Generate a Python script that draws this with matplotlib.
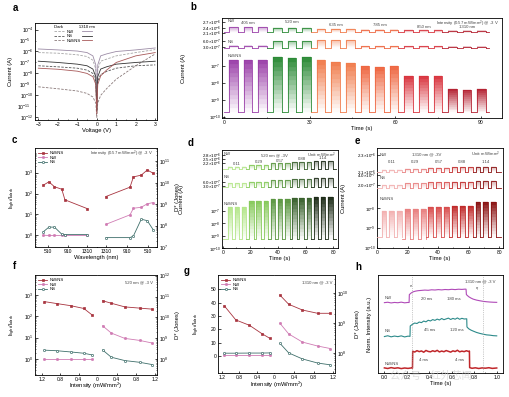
import numpy as np
import matplotlib
matplotlib.use("Agg")
import matplotlib.pyplot as plt
from matplotlib.colors import to_rgb
from matplotlib.ticker import NullLocator, FixedLocator

plt.rcParams['font.family'] = ['Liberation Sans', 'Noto Sans CJK SC', 'DejaVu Sans']
plt.rcParams['mathtext.fontset'] = 'custom'
plt.rcParams['mathtext.rm'] = 'Liberation Sans'
plt.rcParams['mathtext.it'] = 'Liberation Sans:italic'
plt.rcParams['font.size'] = 3.6
plt.rcParams['axes.linewidth'] = 0.6
plt.rcParams['axes.labelsize'] = 4.2
plt.rcParams['axes.labelpad'] = 1.0
for k in ['xtick', 'ytick']:
    plt.rcParams[k + '.direction'] = 'in'
    plt.rcParams[k + '.major.size'] = 1.8
    plt.rcParams[k + '.minor.size'] = 1.0
    plt.rcParams[k + '.major.width'] = 0.5
    plt.rcParams[k + '.minor.width'] = 0.4
    plt.rcParams[k + '.major.pad'] = 1.1
    plt.rcParams[k + '.labelsize'] = 3.6

# ---------------- data ----------------
# a: I-V curves
a_volt = [-3, -2, -1, -0.5, -0.2, -0.05, 0, 0.05, 0.2, 0.5, 1, 2, 3]
a_dark_nw = [8e-7, 7e-7, 5e-7, 3.5e-7, 1.6e-7, 2.5e-8, 6e-12, 2.5e-8, 1.3e-7, 2e-7, 4e-7, 8e-7, 1.5e-6]
a_dark_ns = [5e-8, 4e-8, 3e-8, 2e-8, 1e-8, 2e-9, 3e-12, 2e-9, 8e-9, 1.5e-8, 3e-8, 5e-8, 6e-8]
a_dark_hj = [6e-10, 4e-10, 2.5e-10, 1.5e-10, 7e-11, 2e-11, 1e-12, 2e-11, 1e-10, 4e-10, 3e-9, 5e-8, 6e-7]
a_light_nw = [1.7e-6, 1.4e-6, 1.1e-6, 8e-7, 4e-7, 6e-8, 1e-11, 6e-8, 4e-7, 6e-7, 1e-6, 1.4e-6, 2.1e-6]
a_light_ns = [1.3e-7, 1e-7, 7e-8, 5e-8, 2.5e-8, 5e-9, 4e-12, 5e-9, 2.5e-8, 4e-8, 7e-8, 1e-7, 1.3e-7]
a_light_hj = [3e-8, 2.4e-8, 1.6e-8, 1e-8, 5e-9, 1e-9, 2e-12, 1e-9, 6e-9, 2e-8, 1e-7, 4e-7, 8e-7]
a_names = ['NW', 'NS', 'NW/NS']

# b: wavelength dependent on/off at 0.57 mW/mm2
b_wl = ['405 nm', '520 nm', '635 nm', '785 nm', '850 nm', '1310 nm']
b_colors = ['#9a3fa8', '#2b8a36', '#f07c4c', '#ee6640', '#d8343e', '#b42232']
b_start = [1.8, 6.9, 12.0, 17.2, 22.3, 27.4, 32.5, 37.6, 42.8, 47.9, 53.0, 58.1, 63.2, 68.4, 73.5, 78.6, 83.7, 88.8]
b_width = 3.0
b_nw_on = [2.42e-6, 2.42e-6, 2.42e-6, 2.38e-6, 2.38e-6, 2.38e-6, 2.31e-6, 2.31e-6, 2.31e-6,
           2.28e-6, 2.28e-6, 2.28e-6, 2.24e-6, 2.24e-6, 2.24e-6, 2.2e-6, 2.2e-6, 2.2e-6]
b_nw_off = 2.14e-6
b_ns_on = [3.6e-7, 3.6e-7, 3.6e-7, 5.85e-7, 5.85e-7, 5.85e-7, 6.2e-7, 6.2e-7, 6.2e-7,
           3.25e-7, 3.25e-7, 3.25e-7, 3.25e-7, 3.25e-7, 3.25e-7, 3.2e-7, 3.2e-7, 3.2e-7]
b_ns_off = 2.66e-7
b_hj_on = [2.3e-7, 2.2e-7, 2.3e-7, 3.1e-7, 3.0e-7, 3.1e-7, 2.1e-7, 1.7e-7, 1.4e-7,
           9.4e-8, 8.8e-8, 9.4e-8, 2.6e-8, 2.4e-8, 2.5e-8, 4.4e-9, 4.0e-9, 4.2e-9]
b_hj_off = 1.8e-10

# c: ratio and detectivity vs wavelength
c_wl = [405, 520, 635, 785, 850, 1310]
c_ratio_hj = [250, 360, 210, 160, 50, 19]
c_ratio_nw = [1.02, 1.0, 1.0, 1.0, 1.0, 1.0]
c_ratio_ns = [1.5, 2.5, 2.5, 1.15, 1.1, 1.1]
c_dstar_hj = [2.8e10, 4.0e10, 2.3e10, 1.9e10, 6.3e9, 2.3e9]
c_dstar_nw = [1.2e9, 1.05e9, 7.2e8, 6.5e8, 3.2e8, 1.15e8]
c_dstar_ns = [6.3e7, 1.7e8, 2.0e8, 3.3e7, 2.75e7, 2.75e7]

# d / e: intensity dependent on/off
int_labels = ['0.11', '0.29', '0.57', '0.88', '1.14']
d_colors = ['#b4e68a', '#86c95a', '#5a9640', '#38602c', '#1c2a16']
e_colors = ['#f2b0b0', '#e88080', '#d84c4c', '#c02a2a', '#8a1212']
d_start = [3.6, 8.8, 14.0, 19.2, 24.4, 29.6, 34.8, 40.0, 45.2, 50.4, 55.6, 60.8, 66.0, 71.2, 76.4]
e_start = [2.8, 7.9, 13.1, 18.2, 23.4, 28.5, 33.6, 38.8, 43.9, 49.1, 54.2, 59.3, 64.5, 69.6, 74.8]
de_width = 3.2
d_nw_on = [1.95e-6, 2.08e-6, 2.2e-6, 2.29e-6, 2.37e-6]
d_nw_off = 1.77e-6
d_ns_on = [4.8e-7, 6.0e-7, 7.3e-7, 8.0e-7, 9.0e-7]
d_ns_off = 1.8e-7
d_hj_on = [2.0e-7, 6.6e-7, 8.6e-7, 1.0e-6, 1.4e-6]
d_hj_off = 5.8e-10
e_nw_on = [2.12e-6, 2.132e-6, 2.148e-6, 2.153e-6, 2.16e-6]
e_nw_off = 2.1e-6
e_ns_on = [2.0e-7, 2.34e-7, 2.54e-7, 2.66e-7, 2.86e-7]
e_ns_off = 1.34e-7
e_hj_on = [7.4e-9, 8.9e-9, 1.2e-8, 1.4e-8, 2.0e-8]
e_hj_off = [3.7e-10, 2.9e-10, 3.7e-10, 3.6e-10, 3.7e-10]

# f / g: ratio and D* vs intensity
fg_int = [0.11, 0.29, 0.57, 0.88, 1.14]
f_ratio_hj = [115, 234, 316, 400, 490]
f_ratio_nw = [1.05, 1.05, 1.05, 1.05, 1.05]
f_ratio_ns = [1.55, 1.86, 2.14, 2.45, 2.6]
f_dstar_hj = [6.3e10, 4.8e10, 3.2e10, 2.8e10, 2.5e10]
f_dstar_nw = [4.0e9, 1.8e9, 1.0e9, 8.0e8, 6.0e8]
f_dstar_ns = [2.8e8, 1.26e8, 8.7e7, 7.2e7, 5.6e7]
g_ratio_hj = [13.3, 16.8, 23.0, 27.0, 37.5]
g_ratio_nw = [1.0, 1.0, 1.0, 1.0, 1.0]
g_ratio_ns = [2.3, 2.2, 2.2, 2.1, 2.1]
g_dstar_hj = [8.5e9, 4.2e9, 2.7e9, 2.1e9, 2.1e9]
g_dstar_nw = [9.8e8, 4.3e8, 2.3e8, 1.7e8, 1.4e8]
g_dstar_ns = [2.1e8, 1.0e8, 6.3e7, 4.6e7, 4.0e7]

# h: normalised transient response
h_t_nw = [0.00, 0.03, 0.06, 0.09, 0.12, 0.15, 0.18, 0.21, 0.220, 0.222, 0.24, 0.26, 0.28, 0.30,
          0.33, 0.36, 0.39, 0.42, 0.45, 0.48, 0.51, 0.54, 0.57, 0.60, 0.63, 0.66, 0.69, 0.72,
          0.727, 0.730, 0.75, 0.77, 0.79, 0.82, 0.85, 0.88, 0.91, 0.94, 0.97, 1.00]
h_v_nw = [0.718, 0.722, 0.715, 0.720, 0.717, 0.723, 0.716, 0.720, 0.719, 0.800, 0.818, 0.830, 0.836, 0.840,
          0.843, 0.846, 0.844, 0.849, 0.847, 0.851, 0.848, 0.852, 0.850, 0.854, 0.851, 0.855, 0.853, 0.856,
          0.855, 0.800, 0.779, 0.765, 0.754, 0.744, 0.737, 0.731, 0.727, 0.724, 0.722, 0.721]
h_t_ns = [0.00, 0.03, 0.06, 0.09, 0.12, 0.15, 0.18, 0.21, 0.228, 0.230,
          0.25, 0.27, 0.29, 0.31, 0.33, 0.35, 0.37, 0.39, 0.41, 0.43, 0.45, 0.47, 0.49, 0.51,
          0.53, 0.55, 0.57, 0.59, 0.61, 0.63, 0.65, 0.67, 0.69, 0.71, 0.733, 0.735,
          0.75, 0.77, 0.79, 0.82, 0.85, 0.88, 0.91, 0.94, 0.97, 1.00]
h_v_ns = [0.372, 0.380, 0.369, 0.377, 0.371, 0.379, 0.368, 0.376, 0.374, 0.480,
          0.497, 0.510, 0.505, 0.520, 0.514, 0.530, 0.522, 0.538, 0.531, 0.545, 0.537, 0.550, 0.541, 0.556,
          0.544, 0.552, 0.560, 0.546, 0.557, 0.549, 0.562, 0.548, 0.558, 0.551, 0.553, 0.470,
          0.452, 0.438, 0.428, 0.414, 0.404, 0.396, 0.389, 0.386, 0.381, 0.379]
h_t_hj = [0.00, 0.03, 0.06, 0.09, 0.12, 0.15, 0.18, 0.21, 0.24, 0.250, 0.252,
          0.27, 0.29, 0.31, 0.33, 0.35, 0.37, 0.39, 0.41, 0.43, 0.45, 0.47, 0.49, 0.51, 0.53,
          0.55, 0.57, 0.59, 0.61, 0.63, 0.65, 0.67, 0.69, 0.71, 0.73, 0.750, 0.757, 0.759,
          0.78, 0.81, 0.84, 0.87, 0.90, 0.93, 0.96, 1.00]
h_v_hj = [0.052, 0.046, 0.055, 0.048, 0.053, 0.045, 0.051, 0.047, 0.052, 0.050, 0.222,
          0.214, 0.228, 0.218, 0.225, 0.212, 0.230, 0.220, 0.216, 0.227, 0.219, 0.231, 0.215, 0.224, 0.217,
          0.229, 0.221, 0.213, 0.226, 0.219, 0.232, 0.216, 0.223, 0.218, 0.227, 0.220, 0.224, 0.055,
          0.048, 0.053, 0.046, 0.052, 0.049, 0.054, 0.047, 0.051]
h_guides = [0.243, 0.88]

hj_col, nw_col, ns_col = '#a8343f', '#d07cb4', '#3f6f6b'
txt_col = '#444444'
small = 3.1

# ---------------- helpers ----------------
fig = plt.figure(figsize=(5.1, 3.97), dpi=100)
W, H = 510, 397


def box(l, t, r, b):
    return [l / W, 1 - b / H, (r - l) / W, (b - t) / H]


def ftext(x, y, s, **kw):
    fig.text(x / W, 1 - y / H, s, **kw)


def sci(v):
    e = int(np.floor(np.log10(v)))
    return r'%.1f$\times$10$^{%d}$' % (v / 10 ** e, e)


def band(rect, xlim, ylim, log=False):
    ax = fig.add_axes(rect)
    ax.patch.set_alpha(0)
    for s in ax.spines.values():
        s.set_visible(False)
    ax.set_xlim(xlim)
    if log:
        ax.set_yscale('log')
    ax.set_ylim(ylim)
    ax.tick_params(axis='x', which='both', bottom=False, labelbottom=False)
    ax.tick_params(axis='y', labelsize=3.2, pad=1)
    ax.yaxis.set_minor_locator(NullLocator())
    return ax


def draw_train(ax, starts, width, on, off, colors, t_end, log=False, shade=1.0, lw=0.6):
    prev = 0.0
    for s, hi, lo, c in zip(starts, on, off, colors):
        e = s + width
        edges = np.geomspace(lo, hi, 13) if log else np.linspace(lo, hi, 13)
        rgb = np.array(to_rgb(c))
        for k in range(12):
            f = shade * (k + 0.5) / 12
            col = tuple(1 - f * (1 - rgb))
            ax.bar(s, edges[k + 1] - edges[k], bottom=edges[k], width=width, align='edge',
                   color=col, edgecolor=col, lw=0.2)
        ax.plot([prev, s, s, e, e], [lo, lo, hi, hi, lo], color=c, lw=lw)
        prev = e
    ax.plot([prev, t_end], [off[-1], off[-1]], color=colors[-1], lw=lw)


def frame(rect, xlim, xticks, xminor):
    ax = fig.add_axes(rect)
    ax.set_xlim(xlim)
    ax.set_ylim(0, 1)
    ax.set_yticks([])
    ax.set_xticks(xticks)
    ax.xaxis.set_minor_locator(FixedLocator(xminor))
    ax.set_xlabel('Time (s)', labelpad=0.8)
    return ax


def split_pair(rect1, rect2):
    ax1 = fig.add_axes(rect1)
    ax2 = fig.add_axes(rect2)
    ax1.spines['right'].set_visible(False)
    ax2.spines['left'].set_visible(False)
    ax2.yaxis.tick_right()
    ax2.yaxis.set_label_position('right')
    ax1.tick_params(axis='y', which='both', right=False)
    ax2.tick_params(axis='y', which='both', left=False)
    return ax1, ax2


def ratio_dstar(ax1, ax2, x, ratios, dstars):
    styles = [(hj_col, 's', hj_col, 'NW/NS'), (nw_col, 'o', nw_col, 'NW'), (ns_col, 'o', 'white', 'NS')]
    for r, d, (c, m, mfc, lab) in zip(ratios, dstars, styles):
        ax1.plot(x, r, color=c, marker=m, ms=1.6, mfc=mfc, mec=c, mew=0.5, lw=0.6, label=lab)
        ax2.plot(x, d, color=c, marker=m, ms=1.6, mfc=mfc, mec=c, mew=0.5, lw=0.6)
    ax1.legend(loc='upper left', frameon=False, fontsize=small, handlelength=2.2,
               borderaxespad=0.3, labelspacing=0.15, handletextpad=0.4)


# ---------------- panel a ----------------
axa = fig.add_axes(box(35, 23, 157, 120))
dark = []
for cur, col in zip([a_dark_nw, a_dark_ns, a_dark_hj], ['#a6a6a6', '#555555', '#8a7a7a']):
    dark += axa.plot(a_volt, cur, color=col, lw=0.6, dashes=(3, 1.6))
light = []
for cur, col in zip([a_light_nw, a_light_ns, a_light_hj], ['#9c8ca6', '#333333', '#a85a5a']):
    light += axa.plot(a_volt, cur, color=col, lw=0.6)
axa.set_yscale('log')
axa.set_ylim(10 ** -12.25, 10 ** -3.4)
axa.set_xlim(-3.17, 3.09)
axa.set_yticks([1e-12, 1e-10, 1e-8, 1e-6, 1e-4])
axa.yaxis.set_minor_locator(FixedLocator([1e-11, 1e-9, 1e-7, 1e-5]))
axa.set_xticks([-3, -2, -1, 0, 1, 2, 3])
axa.xaxis.set_minor_locator(FixedLocator([-2.5, -1.5, -0.5, 0.5, 1.5, 2.5]))
axa.set_xlabel('Voltage (V)', labelpad=0.8)
axa.set_ylabel('Current (A)')
axa.yaxis.set_label_coords(-0.18, 0.5)
axa.legend(dark + light, a_names + ['', '', ''], ncol=2, frameon=False, loc='upper left',
           bbox_to_anchor=(0.12, 1.02), fontsize=small, title='Dark              1310 nm',
           title_fontsize=small, handlelength=2.4, columnspacing=0.2, labelspacing=0.15,
           handletextpad=0.5)

# ---------------- panel b ----------------
b_xlim = (-0.8, 97.5)
axb = frame(box(222, 18, 502, 118), b_xlim, [0, 30, 60, 90], [15, 45, 75])
axb.set_ylabel('Current (A)')
axb.yaxis.set_label_coords(-0.13, 0.5)
b_pc = [c for c in b_colors for _ in range(3)]
n = len(b_start)
bnw = band(box(222, 19, 502, 36), b_xlim, (1.92e-6, 2.88e-6))
draw_train(bnw, b_start, b_width, b_nw_on, [b_nw_off] * n, b_pc, 93, shade=0.45)
bnw.set_yticks([2.1e-6, 2.4e-6, 2.7e-6], [sci(v) for v in [2.1e-6, 2.4e-6, 2.7e-6]])
bns = band(box(222, 37, 502, 52), b_xlim, (0.54e-7, 7.8e-7))
draw_train(bns, b_start, b_width, b_ns_on, [b_ns_off] * n, b_pc, 93, shade=0.45)
bns.set_yticks([3e-7, 6e-7], [sci(v) for v in [3e-7, 6e-7]])
bhj = band(box(222, 53, 502, 118), b_xlim, (10 ** -10.07, 10 ** -6.25), log=True)
draw_train(bhj, b_start, b_width, b_hj_on, [b_hj_off] * n, b_pc, 93, log=True)
bhj.set_yticks([1e-10, 1e-9, 1e-8, 1e-7])
bnw.text(1, 2.75e-6, 'NW', fontsize=small, color=txt_col, va='center')
bns.text(1, 5.4e-7, 'NS', fontsize=small, color=txt_col, va='center')
bhj.text(1, 3.8e-7, 'NW/NS', fontsize=small, color=txt_col, va='center')
b_lab_y = [2.56e-6, 2.61e-6, 2.45e-6, 2.42e-6, 2.33e-6, 2.3e-6]
for i, (lab, ly) in enumerate(zip(b_wl, b_lab_y)):
    bnw.text(b_start[3 * i + 1] + b_width / 2, ly, lab, fontsize=small, color=txt_col,
             ha='center', va='bottom')
ftext(499, 24, r'Intensity (0.57 mW/mm$^2$) @ -3 V', fontsize=small, color=txt_col, ha='right', va='center')

# ---------------- panel c ----------------
axc1, axc2 = split_pair(box(35, 148, 97, 247), box(97, 148, 157, 247))
ratio_dstar(axc1, axc2, c_wl, [c_ratio_hj, c_ratio_nw, c_ratio_ns], [c_dstar_hj, c_dstar_nw, c_dstar_ns])
axc1.set_yscale('log')
axc1.set_ylim(10 ** -0.55, 10 ** 4.17)
axc1.set_xlim(234, 1510)
axc1.set_xticks([510, 910, 1310])
axc1.set_yticks([1, 10, 100, 1000])
axc2.set_yscale('log')
axc2.set_ylim(1e7, 10 ** 11.63)
axc2.set_xlim(1482, 334)
axc2.set_xticks([1310, 910, 510])
axc2.set_yticks([1e7, 1e8, 1e9, 1e10, 1e11])
axc1.set_ylabel(r'I$_{light}$/I$_{dark}$')
axc1.yaxis.set_label_coords(-0.27, 0.5)
axc2.set_ylabel('D* (Jones)')
axc2.yaxis.set_label_coords(1.3, 0.5)
ftext(96, 257, 'Wavelength (nm)', fontsize=4.2, ha='center', va='center')
ftext(153, 154, r'Intensity (0.57 mW/mm$^2$) @ -3 V', fontsize=small, color=txt_col, ha='right', va='center')

# ---------------- panel d ----------------
d_xlim = (-0.5, 83.5)
axd = frame(box(222, 150, 338, 248), d_xlim, [0, 20, 40, 60, 80], [10, 30, 50, 70])
axd.set_ylabel('Current (A)')
axd.yaxis.set_label_coords(-0.33, 0.5)
d_pc = [c for c in d_colors for _ in range(3)]
m = len(d_start)
dnw = band(box(222, 151, 338, 171), d_xlim, (1.64e-6, 3.09e-6))
draw_train(dnw, d_start, de_width, [v for v in d_nw_on for _ in range(3)], [d_nw_off] * m, d_pc, 82, shade=0.45)
dnw.set_yticks([2.2e-6, 2.5e-6, 2.8e-6], [sci(v) for v in [2.2e-6, 2.5e-6, 2.8e-6]])
dns = band(box(222, 173, 338, 190), d_xlim, (-0.23e-7, 1.25e-6))
draw_train(dns, d_start, de_width, [v for v in d_ns_on for _ in range(3)], [d_ns_off] * m, d_pc, 82, shade=0.45)
dns.set_yticks([3e-7, 6e-7], [sci(v) for v in [3e-7, 6e-7]])
dhj = band(box(222, 191, 338, 248.5), d_xlim, (1e-10, 10 ** -5.4), log=True)
draw_train(dhj, d_start, de_width, [v for v in d_hj_on for _ in range(3)], [d_hj_off] * m, d_pc, 82, log=True)
dhj.set_yticks([1e-10, 1e-9, 1e-8, 1e-7])
dnw.text(1, 2.85e-6, 'NW', fontsize=small, color=txt_col, va='center')
dns.text(1, 9.5e-7, 'NS', fontsize=small, color=txt_col, va='center')
dhj.text(1, 2.5e-7, 'NW/NS', fontsize=small, color=txt_col, va='bottom')
for i, lab in enumerate(int_labels):
    dnw.text(d_start[3 * i + 1] + de_width / 2, d_nw_on[i] + 0.05e-6, lab, fontsize=small,
             color=txt_col, ha='center', va='bottom')
ftext(274, 155, '520 nm @ -3V', fontsize=small, color=txt_col, ha='center', va='center')
ftext(336, 155, r'Unit: mW/mm$^2$', fontsize=small, color=txt_col, ha='right', va='center')

# ---------------- panel e ----------------
e_xlim = (-0.2, 82.5)
axe = frame(box(377, 148, 503, 248), e_xlim, [0, 20, 40, 60, 80], [10, 30, 50, 70])
axe.set_ylabel('Current (A)')
axe.yaxis.set_label_coords(-0.25, 0.5)
e_pc = [c for c in e_colors for _ in range(3)]
enw = band(box(377, 150, 503, 173), e_xlim, (2.084e-6, 2.36e-6))
draw_train(enw, e_start, de_width, [v for v in e_nw_on for _ in range(3)], [e_nw_off] * m, e_pc, 81, shade=0.35)
enw.set_yticks([2.1e-6, 2.3e-6], [sci(v) for v in [2.1e-6, 2.3e-6]])
ens = band(box(377, 172, 503, 190), e_xlim, (1.0e-7, 4.6e-7))
draw_train(ens, e_start, de_width, [v for v in e_ns_on for _ in range(3)], [e_ns_off] * m, e_pc, 81, shade=0.35)
ens.set_yticks([2e-7, 4e-7], [sci(v) for v in [2e-7, 4e-7]])
ehj = band(box(377, 191, 503, 248), e_xlim, (10 ** -9.9, 10 ** -7.12), log=True)
draw_train(ehj, e_start, de_width, [v for v in e_hj_on for _ in range(3)],
           [v for v in e_hj_off for _ in range(3)], e_pc, 81, log=True)
ehj.set_yticks([1e-10, 1e-9, 1e-8])
enw.text(1.5, 2.3e-6, 'NW', fontsize=small, color=txt_col, va='center')
ens.text(1.5, 3.4e-7, 'NS', fontsize=small, color=txt_col, va='center')
ehj.text(1.5, 2.5e-8, 'NW/NS', fontsize=small, color=txt_col, va='bottom')
for i, lab in enumerate(int_labels):
    enw.text(e_start[3 * i + 1] + de_width / 2, 2.19e-6, lab, fontsize=small,
             color=txt_col, ha='center', va='bottom')
ftext(427, 154, '1310 nm @ -3V', fontsize=small, color=txt_col, ha='center', va='center')
ftext(500, 154, r'Unit: mW/mm$^2$', fontsize=small, color=txt_col, ha='right', va='center')

# ---------------- panel f ----------------
axf1, axf2 = split_pair(box(35, 275, 97.3, 375), box(97.3, 275, 157, 375))
ratio_dstar(axf1, axf2, fg_int, [f_ratio_hj, f_ratio_nw, f_ratio_ns], [f_dstar_hj, f_dstar_nw, f_dstar_ns])
axf1.set_yscale('log')
axf1.set_ylim(10 ** -0.75, 10 ** 3.94)
axf1.set_xlim(1.345, 0)
axf1.set_xticks([1.2, 0.8, 0.4, 0], ['1.2', '0.8', '0.4', '0'])
axf1.set_yticks([1, 10, 100, 1000])
axf2.set_yscale('log')
axf2.set_ylim(10 ** 7.25, 10 ** 12.03)
axf2.set_xlim(0, 1.24)
axf2.set_xticks([0.4, 0.8, 1.2])
axf2.set_yticks([1e8, 1e9, 1e10, 1e11, 1e12])
axf1.set_ylabel(r'I$_{light}$/I$_{dark}$')
axf1.yaxis.set_label_coords(-0.27, 0.5)
axf2.set_ylabel('D* (Jones)')
axf2.yaxis.set_label_coords(1.3, 0.5)
ftext(96, 386, r'Intensity (mW/mm$^2$)', fontsize=4.2, ha='center', va='center')
ftext(153, 282, '520 nm @ -3 V', fontsize=small, color=txt_col, ha='right', va='center')

# ---------------- panel g ----------------
axg1, axg2 = split_pair(box(218, 275, 274.5, 373), box(274.5, 275, 335, 373))
ratio_dstar(axg1, axg2, fg_int, [g_ratio_hj, g_ratio_nw, g_ratio_ns], [g_dstar_hj, g_dstar_nw, g_dstar_ns])
axg1.set_ylim(-12.75, 60.7)
axg1.set_xlim(1.286, 0)
axg1.set_xticks([1.2, 0.8, 0.4, 0], ['1.2', '0.8', '0.4', '0'])
axg1.set_yticks([0, 10, 20, 30, 40, 50])
axg2.set_yscale('log')
axg2.set_ylim(10 ** 7.33, 10 ** 10.6)
axg2.set_xlim(0, 1.235)
axg2.set_xticks([0.4, 0.8, 1.2])
axg2.set_yticks([1e8, 1e9, 1e10])
axg1.set_ylabel(r'I$_{light}$/I$_{dark}$')
axg1.yaxis.set_label_coords(-0.29, 0.5)
axg2.set_ylabel('D* (Jones)')
axg2.yaxis.set_label_coords(1.33, 0.5)
ftext(276.5, 385, r'Intensity (mW/mm$^2$)', fontsize=4.2, ha='center', va='center')
ftext(332, 282, '1310 nm @ -3 V', fontsize=small, color=txt_col, ha='right', va='center')

# ---------------- panel h ----------------
axh = fig.add_axes(box(378, 275, 503, 373))
axh.plot(h_t_nw, h_v_nw, color='#b04ab8', lw=0.8)
axh.plot(h_t_ns, h_v_ns, color='#2c8a8a', lw=0.8)
axh.plot(h_t_hj, h_v_hj, color='#c0262a', lw=1.1)
for g in h_guides:
    axh.axvline(g, color='#999999', ls=':', lw=0.5)
axh.set_xlim(-0.057, 1.056)
axh.set_ylim(0, 1)
axh.set_yticks([])
axh.set_xticks([0, 0.2, 0.4, 0.6, 0.8, 1.0], ['0.0', '0.2', '0.4', '0.6', '0.8', '1.0'])
axh.xaxis.set_minor_locator(FixedLocator([0.1, 0.3, 0.5, 0.7, 0.9]))
axh.set_xlabel('Time (s)', labelpad=0.8)
axh.set_ylabel('Norm. Intensity (a.u.)')
axh.yaxis.set_label_coords(-0.05, 0.5)
for x, y, s in [(0.0, 0.77, 'NW'), (0.0, 0.43, 'NS'), (0.0, 0.09, 'NW/NS'),
                (0.33, 0.755, '20 ms'), (0.56, 0.755, '180 ms'), (0.35, 0.44, '45 ms'),
                (0.58, 0.44, '120 ms'), (0.31, 0.13, '4 ms'), (0.63, 0.13, '4 ms'),
                (0.22, 0.88, r'$\tau_r$'), (0.81, 0.85, r'$\tau_f$')]:
    axh.text(x, y, s, fontsize=small, color=txt_col, va='center')
axh.text(0.99, 0.93, '1310 nm @ -3 V', fontsize=small, color=txt_col, ha='right', va='center')
ftext(390, 376, '公众号 · 红外芯闻', fontsize=7.5, color='#c8c8c8', alpha=0.6, va='center')

# panel letters
for x, y, s in [(13, 8, 'a'), (190, 7, 'b'), (12, 140, 'c'), (188, 143, 'd'),
                (355, 141, 'e'), (13, 266, 'f'), (184, 271, 'g'), (355, 267, 'h')]:
    ftext(x, y, s, fontsize=7, fontweight='bold', va='center')

fig.savefig('out.png', dpi=100)
